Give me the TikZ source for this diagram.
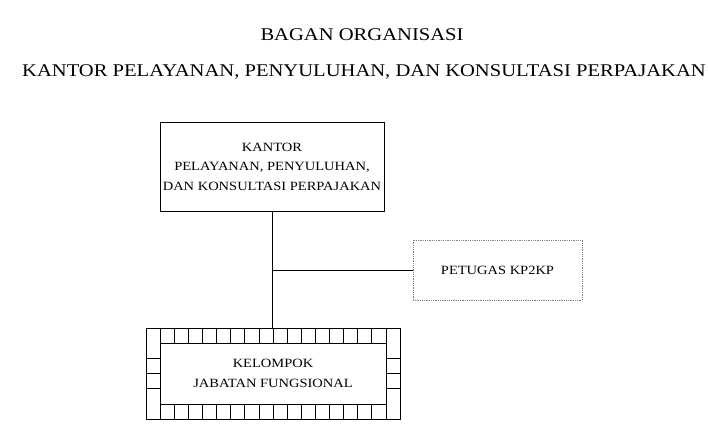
\documentclass[tikz,border=0pt]{standalone}
\usepackage{fontspec}
\setmainfont[FakeStretch=1.15]{Liberation Serif}
\begin{document}
\begin{tikzpicture}[x=1pt,y=-1pt,
  box/.style={draw,line width=0.8pt,align=center,inner sep=0pt,font=\fontsize{12.6}{19.5}\selectfont},
  ttl/.style={font=\fontsize{17.9}{20}\selectfont}]
\useasboundingbox (0,0) rectangle (708,434);
\node[ttl] (t1) at (362,35) {BAGAN ORGANISASI};
\node[ttl] (t2) at (364,72) {KANTOR PELAYANAN, PENYULUHAN, DAN KONSULTASI PERPAJAKAN};
\node[box,minimum width=224pt,minimum height=89pt] (kp) at (272,166.5) {KANTOR\\PELAYANAN, PENYULUHAN,\\DAN KONSULTASI PERPAJAKAN};
\node[box,draw=gray,densely dotted,minimum width=169pt,minimum height=60pt] (pt) at (497.5,270) {PETUGAS KP2KP};
\node[box,minimum width=254pt,minimum height=91pt] (kj) at (273,373.5) {KELOMPOK\\JABATAN FUNGSIONAL};
\draw[line width=0.6pt] (160.1,343.2) rectangle (385.9,403.8);
\foreach \k in {1,...,17} {
  \draw[line width=0.6pt] (146+14.111*\k,328) -- (146+14.111*\k,343.2);
  \draw[line width=0.6pt] (146+14.111*\k,403.8) -- (146+14.111*\k,419);}
\foreach \k in {2,...,4} {
  \draw[line width=0.6pt] (146,328+15.17*\k) -- (160.1,328+15.17*\k);
  \draw[line width=0.6pt] (385.9,328+15.17*\k) -- (400,328+15.17*\k);}
\draw[line width=0.6pt] (kp.south) -- (kj.north -| kp.south);
\coordinate (j) at (kp.south |- pt.west);
\draw[line width=0.6pt] (j) -- (pt.west);
\end{tikzpicture}
\end{document}
